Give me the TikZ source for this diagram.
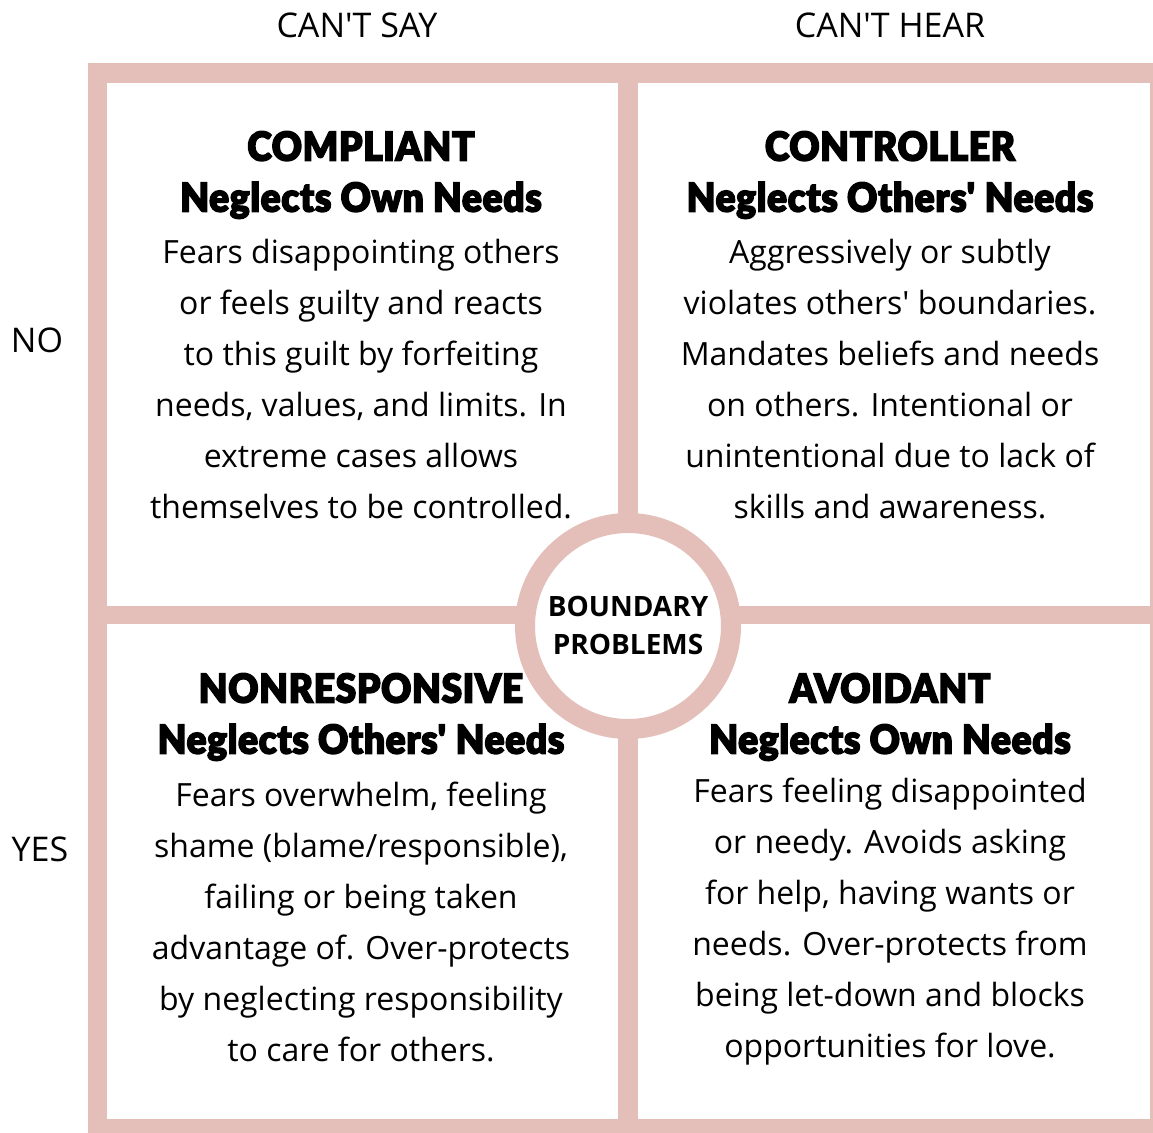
\documentclass[tikz,border=0pt]{standalone}
\usepackage{fontspec}
\setmainfont{Open Sans}
\newfontfamily\headfont{Lato Black}[FakeBold=3.5, FakeStretch=0.93, LetterSpace=1.5]
\definecolor{frame}{RGB}{228,191,186}
\tikzset{
  head/.style={align=center, font=\headfont\fontsize{40}{51}\selectfont},
  body/.style={align=center, font=\fontsize{32}{51}\selectfont},
  axis/.style={font=\fontsize{34}{40}\selectfont},
  hub/.style={align=center, font=\bfseries\fontsize{28}{38}\selectfont}
}
\begin{document}
\begin{tikzpicture}[x=1pt,y=-1pt]
  \useasboundingbox (0,0) rectangle (1153,1132);
  \fill[frame] (88,63) rectangle (1170,1150);
  \fill[white] (107,83) rectangle (618,606);
  \fill[white] (638,83) rectangle (1150,606);
  \fill[white] (107,624) rectangle (618,1119);
  \fill[white] (638,624) rectangle (1150,1119);
  \filldraw[fill=white, draw=frame, line width=20pt] (628,626) circle[radius=103];

  \node[axis] (say) at (357,25) {CAN\textquotesingle T SAY};
  \node[axis] (hear) at (890,25) {CAN\textquotesingle T HEAR};
  \node[axis] (no) at (37,340) {NO};
  \node[axis] (yes) at (40,849) {YES};

  \node[hub] (hub) at (628,625) {BOUNDARY\\PROBLEMS};

  \node[head] (compliant) at (361,175) {COMPLIANT\\Neglects Own Needs};
  \node[body] (complianttext) at (361,379) {Fears disappointing others\\or feels guilty and reacts\\to this guilt by forfeiting\\needs, values, and limits. In\\extreme cases allows\\themselves to be controlled.};

  \node[head] (controller) at (890,175) {CONTROLLER\\Neglects Others\textquotesingle{} Needs};
  \node[body] (controllertext) at (890,379) {Aggressively or subtly\\violates others\textquotesingle{} boundaries.\\Mandates beliefs and needs\\on others. Intentional or\\unintentional due to lack of\\skills and awareness.};

  \node[head] (nonresp) at (361,717) {NONRESPONSIVE\\Neglects Others\textquotesingle{} Needs};
  \node[body] (nonresptext) at (361,922) {Fears overwhelm, feeling\\shame (blame/responsible),\\failing or being taken\\advantage of. Over-protects\\by neglecting responsibility\\to care for others.};

  \node[head] (avoidant) at (890,717) {AVOIDANT\\Neglects Own Needs};
  \node[body] (avoidanttext) at (890,922) {Fears feeling disappointed\\or needy. Avoids asking\\for help, having wants or\\needs. Over-protects from\\being let-down and blocks\\opportunities for love.};
\end{tikzpicture}
\end{document}
